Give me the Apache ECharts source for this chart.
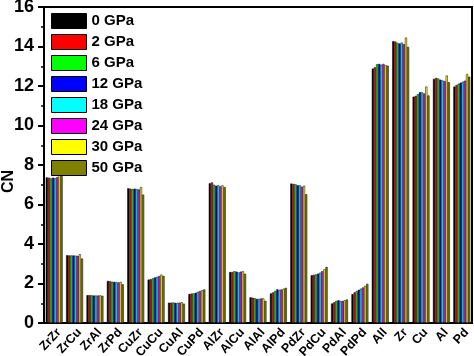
<!DOCTYPE html>
<html><head><meta charset="utf-8">
<script src="https://cdn.jsdelivr.net/npm/echarts@6/dist/echarts.min.js"></script>
<style>html,body{margin:0;padding:0;background:#fff}#c{width:474px;height:356px}</style>
</head><body><div id="c"></div>
<script>
const categories = ['ZrZr','ZrCu','ZrAl','ZrPd','CuZr','CuCu','CuAl','CuPd','AlZr','AlCu','AlAl','AlPd','PdZr','PdCu','PdAl','PdPd','All','Zr','Cu','Al','Pd'];
const seriesNames = ['0 GPa','2 GPa','6 GPa','12 GPa','18 GPa','24 GPa','30 GPa','50 GPa'];
const colors = ['#000000','#ff0000','#00ff00','#0000ff','#00ffff','#ff00ff','#ffff00','#808000'];
const yTicks = [0,2,4,6,8,10,12,14,16];
// values per category, order: 0,2,6,12,18,24,30,50 GPa
const ZrZr = [7.37,7.36,7.32,7.36,7.33,7.38,7.50,7.44];
const ZrCu = [3.43,3.42,3.42,3.42,3.41,3.40,3.48,3.26];
const ZrAl = [1.41,1.41,1.40,1.39,1.39,1.39,1.40,1.38];
const ZrPd = [2.13,2.11,2.09,2.08,2.07,2.05,2.08,1.96];
const CuZr = [6.82,6.80,6.78,6.80,6.78,6.76,6.88,6.50];
const CuCu = [2.20,2.22,2.26,2.31,2.34,2.38,2.45,2.38];
const CuAl = [1.03,1.03,1.04,1.02,1.02,1.03,1.05,0.98];
const CuPd = [1.47,1.49,1.50,1.53,1.58,1.62,1.66,1.70];
const AlZr = [7.07,7.12,7.00,6.95,6.98,6.92,6.97,6.88];
const AlCu = [2.58,2.58,2.62,2.60,2.56,2.60,2.62,2.49];
const AlAl = [1.30,1.28,1.25,1.22,1.22,1.24,1.25,1.12];
const AlPd = [1.50,1.55,1.62,1.70,1.68,1.70,1.74,1.78];
const PdZr = [7.06,7.04,7.02,6.97,6.97,6.90,6.95,6.52];
const PdCu = [2.42,2.44,2.46,2.50,2.55,2.62,2.72,2.84];
const PdAl = [0.99,1.05,1.12,1.15,1.12,1.12,1.15,1.19];
const PdPd = [1.46,1.55,1.62,1.68,1.74,1.80,1.88,1.98];
const All = [12.88,12.95,13.10,13.12,13.08,13.12,13.05,13.03];
const Zr = [14.27,14.25,14.18,14.15,14.20,14.12,14.45,13.98];
const Cu = [11.46,11.50,11.58,11.68,11.68,11.62,11.97,11.52];
const Al = [12.36,12.41,12.38,12.32,12.28,12.25,12.53,12.19];
const Pd = [11.97,12.05,12.12,12.17,12.22,12.27,12.61,12.47];
const groups = [ZrZr,ZrCu,ZrAl,ZrPd,CuZr,CuCu,CuAl,CuPd,AlZr,AlCu,AlAl,AlPd,PdZr,PdCu,PdAl,PdPd,All,Zr,Cu,Al,Pd];

const font = '"Liberation Sans", Arial, sans-serif';
const chart = echarts.init(document.getElementById('c'), null, {renderer:'canvas'});
chart.setOption({
  animation: false,
  backgroundColor: '#fff',
  grid: {left: 44, right: 2, top: 7, bottom: 33, show: true, borderColor: '#000', borderWidth: 2,
    containLabel: false, outerBoundsMode: 'none'},
  legend: {
    orient: 'vertical', left: 51, top: 13, padding: 0, itemWidth: 35, itemHeight: 15, itemGap: 5,
    data: seriesNames.map(n => ({name: n, icon: 'rect'})),
    textStyle: {fontFamily: font, fontWeight: 'bold', fontSize: 15, color: '#000'},
    itemStyle: {borderColor: '#000', borderWidth: 1}
  },
  xAxis: {
    type: 'category', data: categories,
    axisLine: {lineStyle: {color: '#000', width: 2}},
    axisTick: {show: false},
    axisLabel: {rotate: 47, interval: 0, margin: 3, align: 'right', verticalAlign: 'top',
      fontFamily: font, fontWeight: 'bold', fontSize: 12.5, color: '#000'}
  },
  yAxis: {
    type: 'value', min: 0, max: 16, interval: 2,
    axisLine: {show: true, lineStyle: {color: '#000', width: 2}},
    axisTick: {show: true, length: 6, lineStyle: {color: '#000', width: 2}},
    minorTick: {show: true, splitNumber: 2, length: 3, lineStyle: {color: '#000', width: 1.5}},
    splitLine: {show: false},
    axisLabel: {margin: 10, fontFamily: font, fontWeight: 'bold', fontSize: 18, color: '#000',
      formatter: v => yTicks.includes(v) ? String(v) : ''}
  },
  graphic: [{type: 'text', left: 1, top: 170, rotation: Math.PI/2,
    style: {text: 'CN', font: 'bold 16px ' + font, fill: '#000'}}],
  series: seriesNames.map((n, i) => ({
    name: n, type: 'bar', barGap: '0%', barCategoryGap: '17%',
    data: groups.map(g => g[i]),
    itemStyle: {color: colors[i], borderColor: '#000', borderWidth: 0.5}
  }))
});
</script></body></html>
